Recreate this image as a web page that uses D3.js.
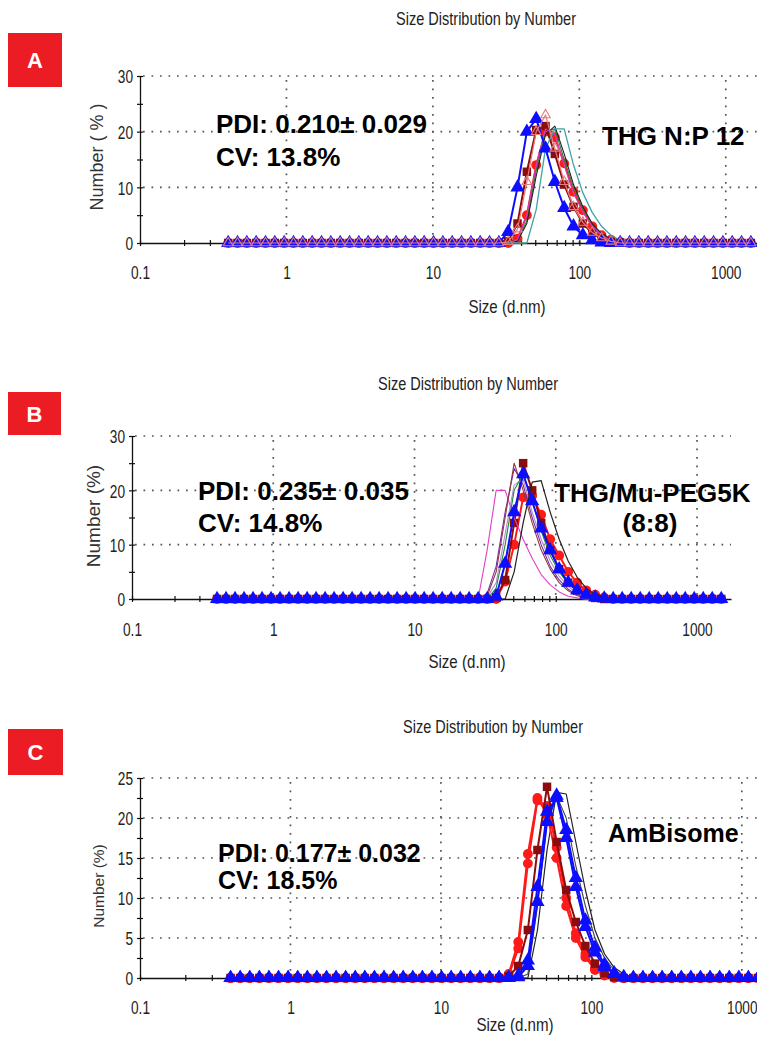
<!DOCTYPE html>
<html>
<head>
<meta charset="utf-8">
<script src="https://cdn.jsdelivr.net/npm/d3@7"></script>
<style>
  body { margin: 0; background: #fff; }
  svg { display: block; font-family: "Liberation Sans", Arial, sans-serif; }
</style>
</head>
<body>
<svg id="chart" width="757" height="1043"></svg>
<script>
// ---------- data ----------

// size bins (d.nm), Zetasizer log spacing, 0.4 .. 1484
const sizes = [0.4, 0.4632, 0.5365, 0.6213, 0.7195, 0.8332, 0.9649, 1.117, 1.294, 1.499,
  1.736, 2.010, 2.328, 2.696, 3.122, 3.615, 4.187, 4.849, 5.615, 6.503,
  7.531, 8.721, 10.10, 11.70, 13.54, 15.69, 18.17, 21.04, 24.36, 28.21,
  32.67, 37.84, 43.82, 50.75, 58.77, 68.06, 78.82, 91.28, 105.7, 122.4,
  141.8, 164.2, 190.1, 220.2, 255.0, 295.3, 342.0, 396.1, 458.7, 531.2,
  615.1, 712.4, 825.0, 955.4, 1106, 1281, 1484];

const xTickLabels = [0.1, 1, 10, 100, 1000];

// Panel A: THG N:P 12
const aBlue = [0,0,0,0,0,0,0,0,0,0, 0,0,0,0,0,0,0,0,0,0, 0,0,0,0,0,0,0,0,0,
  0,2,10,20,22.3,17,11,6.3,3,1.4,0.5,0.1, 0,0,0,0,0,0,0,0, 0,0,0,0,0,0,0,0];
const aDarkRed = [0,0,0,0,0,0,0,0,0,0, 0,0,0,0,0,0,0,0,0,0, 0,0,0,0,0,0,0,0,0,
  0,0.3,3.5,12.8,20.3,21,16,10.5,6.5,3.5,1.8,0.8,0.3,0.1, 0,0,0,0,0,0,0, 0,0,0,0,0,0,0];
const aRed = [0,0,0,0,0,0,0,0,0,0, 0,0,0,0,0,0,0,0,0,0, 0,0,0,0,0,0,0,0,0,
  0,0,0.8,5,14,20,19,14.3,9.2,5.9,3,1.4,0.6,0.2, 0,0,0,0,0,0,0, 0,0,0,0,0,0,0];
const aSalmon = [0,0,0,0,0,0,0,0,0,0, 0,0,0,0,0,0,0,0,0,0, 0,0,0,0,0,0,0,0,0,
  0,0.2,2.5,11,20,23,17,11,6.5,3.7,1.9,0.9,0.3,0, 0,0,0,0,0,0,0, 0,0,0,0,0,0,0];
const aGreen = [0,0,0,0,0,0,0,0,0,0, 0,0,0,0,0,0,0,0,0,0, 0,0,0,0,0,0,0,0,0,
  0,0,0.5,4,13,20,20.5,15,10,6.2,3.4,1.6,0.6,0.2, 0,0,0,0,0,0,0, 0,0,0,0,0,0,0];
const aBlack = [0,0,0,0,0,0,0,0,0,0, 0,0,0,0,0,0,0,0,0,0, 0,0,0,0,0,0,0,0,0,
  0,0,0.3,3.5,12,19.5,21,16,10.5,6.5,3.5,1.7,0.7,0.2, 0,0,0,0,0,0,0, 0,0,0,0,0,0,0];
const aMagenta = [0,0,0,0,0,0,0,0,0,0, 0,0,0,0,0,0,0,0,0,0, 0,0,0,0,0,0,0,0,0,
  0,0,0.6,5,14,20.5,19.5,14,9,5.5,3,1.4,0.5,0.2, 0,0,0,0,0,0,0, 0,0,0,0,0,0,0];
const aTeal = [0,0,0,0,0,0,0,0,0,0, 0,0,0,0,0,0,0,0,0,0, 0,0,0,0,0,0,0,0,0,
  0,0,0,0,6,17,20.5,20.5,14,9,5.5,3,1.4,0.5,0.1, 0,0,0,0,0,0,0, 0,0,0,0,0,0];

// Panel B: THG/Mu-PEG5K (8:8)
const bBlue = [0,0,0,0,0,0,0,0,0,0, 0,0,0,0,0,0,0,0,0,0, 0,0,0,0,0,0,0,0,0,
  0,0,0.5,6.5,16,23,18,13,9,5.5,3,1.6,0.8,0.3,0.1, 0,0,0,0,0,0,0, 0,0,0,0,0,0];
const bDarkRed = [0,0,0,0,0,0,0,0,0,0, 0,0,0,0,0,0,0,0,0,0, 0,0,0,0,0,0,0,0,0,
  0,0,0.3,3.5,14,25,20,14,9,5.5,3,1.5,0.6,0.2, 0,0,0,0,0,0,0, 0,0,0,0,0,0,0];
const bRed = [0,0,0,0,0,0,0,0,0,0, 0,0,0,0,0,0,0,0,0,0, 0,0,0,0,0,0,0,0,0,
  0,0,0,3.2,10,18.7,19,15.5,11,8,5,3,1.6,0.8,0.3, 0,0,0,0,0,0,0, 0,0,0,0,0,0];
const bBlack = [0,0,0,0,0,0,0,0,0,0, 0,0,0,0,0,0,0,0,0,0, 0,0,0,0,0,0,0,0,0,
  0,0,0,0,5,14,21.5,21.8,16,11,7,4,2,0.8,0.3, 0,0,0,0,0,0,0, 0,0,0,0,0,0];
const bMagenta = [0,0,0,0,0,0,0,0,0,0, 0,0,0,0,0,0,0,0,0,0, 0,0,0,0,0,0,0,0,0,
  0,9,20,20,15,11,7.5,4.5,2.6,1.3,0.5,0.2, 0,0,0,0,0,0,0,0, 0,0,0,0,0,0,0,0];
const bPurple = [0,0,0,0,0,0,0,0,0,0, 0,0,0,0,0,0,0,0,0,0, 0,0,0,0,0,0,0,0,0,
  0,1,6,16,24,21,15,10,6,3.5,1.8,0.8,0.3, 0,0,0,0,0,0,0,0, 0,0,0,0,0,0,0];
const bBrown = [0,0,0,0,0,0,0,0,0,0, 0,0,0,0,0,0,0,0,0,0, 0,0,0,0,0,0,0,0,0,
  0,0.5,5,15,25,20,14,9,5.5,3,1.5,0.6,0.2, 0,0,0,0,0,0,0,0, 0,0,0,0,0,0,0];
const bGreen = [0,0,0,0,0,0,0,0,0,0, 0,0,0,0,0,0,0,0,0,0, 0,0,0,0,0,0,0,0,0,
  0,0,2,10,20,23,18,12.5,8,5,2.8,1.4,0.6,0.2, 0,0,0,0,0,0,0, 0,0,0,0,0,0,0];
const bLavender = [0,0,0,0,0,0,0,0,0,0, 0,0,0,0,0,0,0,0,0,0, 0,0,0,0,0,0,0,0,0,
  0,0.3,3,12,21,22,16,11,7,4.2,2.3,1.1,0.4, 0,0,0,0,0,0,0,0, 0,0,0,0,0,0,0];

// Panel C: AmBisome
const cRed = [0,0,0,0,0,0,0,0,0,0, 0,0,0,0,0,0,0,0,0,0, 0,0,0,0,0,0,0,0,0,
  0.3,3.7,14.3,22.2,21.5,16.3,10,5.6,3,1.2,0.4,0.1, 0,0,0,0,0,0,0,0, 0,0,0,0,0,0,0,0];
const cRed2 = [0,0,0,0,0,0,0,0,0,0, 0,0,0,0,0,0,0,0,0,0, 0,0,0,0,0,0,0,0,0,
  0.5,4.5,15.5,22.5,20.5,15,9,5,2.6,1,0.3,0, 0,0,0,0,0,0,0,0, 0,0,0,0,0,0,0,0];
const cDarkRed = [0,0,0,0,0,0,0,0,0,0, 0,0,0,0,0,0,0,0,0,0, 0,0,0,0,0,0,0,0,0,
  0.2,1.5,6,16,23.9,17,11,7,4,1.8,0.6,0.1, 0,0,0,0,0,0,0,0, 0,0,0,0,0,0,0,0];
const cBlue = [0,0,0,0,0,0,0,0,0,0, 0,0,0,0,0,0,0,0,0,0, 0,0,0,0,0,0,0,0,0,
  0,0.3,2.2,11.4,20.8,22.5,17.5,11.4,6.4,3.2,1.4,0.5,0.1, 0,0,0,0,0,0,0,0, 0,0,0,0,0,0,0];
const cBlue2 = [0,0,0,0,0,0,0,0,0,0, 0,0,0,0,0,0,0,0,0,0, 0,0,0,0,0,0,0,0,0,
  0,0.1,1.5,9.5,19.5,22.8,18.5,12.5,7.2,3.8,1.7,0.6,0.1, 0,0,0,0,0,0,0,0, 0,0,0,0,0,0,0];
const cBlack = [0,0,0,0,0,0,0,0,0,0, 0,0,0,0,0,0,0,0,0,0, 0,0,0,0,0,0,0,0,0,
  0,0,0,6,16,23.2,23,17,11,6,3,1.3,0.5,0.1, 0,0,0,0,0,0,0, 0,0,0,0,0,0,0];
const cBlack2 = [0,0,0,0,0,0,0,0,0,0, 0,0,0,0,0,0,0,0,0,0, 0,0,0,0,0,0,0,0,0,
  0,0,0.5,9,19.5,22.8,20,14,9,5,2.5,1,0.3, 0,0,0,0,0,0,0,0, 0,0,0,0,0,0,0];

// ---------- colours / series styles ----------
const BLUE = "#0d0dff", DARKRED = "#8a0c0c", RED = "#ff1a1a";

const panels = [
  {
    badge: [8, 33, 54, 54], letter: "A",
    x0: 140, x1: 761, y0: 243, yTop: 76, yMax: 30,
    yMajor: [0, 10, 20, 30], yTicks: [0, 5, 10, 15, 20, 25, 30],
    title: [486, 25], xLabel: [507, 313], xTickOff: 36,
    yLabel: { x: 97, y: 157, text: "Number ( % )", size: 18 },
    font: 26,
    pdi: ["PDI: 0.210± 0.029", 216, 133], cv: ["CV: 13.8%", 216, 166],
    right: [["THG N:P 12", 602, 145, "start"]],
    series: [
      { v: aRed, c: RED, w: 2, m: "circle" },
      { v: aDarkRed, c: DARKRED, w: 2, m: "square" },
      { v: aGreen, c: "#1f8a3a", w: 1.1 },
      { v: aBlack, c: "#222", w: 1.1 },
      { v: aMagenta, c: "#d23ad2", w: 1.1 },
      { v: aTeal, c: "#3fa3a3", w: 1.3 },
      { v: aBlue, c: BLUE, w: 2, m: "triangle" },
      { v: aSalmon, c: "#e77a7a", w: 1.2, m: "open" }
    ]
  },
  {
    badge: [8, 392, 53, 43], letter: "B",
    x0: 132, x1: 731, y0: 599, yTop: 436, yMax: 30,
    yMajor: [0, 10, 20, 30], yTicks: [0, 5, 10, 15, 20, 25, 30],
    title: [468, 390], xLabel: [467, 668], xTickOff: 37,
    yLabel: { x: 93, y: 516, text: "Number (%)", size: 19 },
    font: 26,
    pdi: ["PDI: 0.235± 0.035", 198, 500], cv: ["CV: 14.8%", 198, 532],
    right: [["THG/Mu-PEG5K", 554, 502, "start"], ["(8:8)", 650, 532, "middle"]],
    series: [
      { v: bRed, c: RED, w: 2, m: "circle" },
      { v: bDarkRed, c: DARKRED, w: 2, m: "square" },
      { v: bMagenta, c: "#e23fc8", w: 1.1 },
      { v: bPurple, c: "#7a2aa8", w: 1.1 },
      { v: bBrown, c: "#8e3b3b", w: 1.1 },
      { v: bLavender, c: "#b48ad0", w: 1.1 },
      { v: bGreen, c: "#1f8a3a", w: 1.1 },
      { v: bBlack, c: "#222", w: 1.2 },
      { v: bBlue, c: BLUE, w: 2, m: "triangle" }
    ]
  },
  {
    badge: [8, 729, 55, 46], letter: "C",
    x0: 140, x1: 778, y0: 978, yTop: 778, yMax: 25,
    yMajor: [0, 5, 10, 15, 20, 25], yTicks: [0, 2.5, 5, 7.5, 10, 12.5, 15, 17.5, 20, 22.5, 25],
    title: [493, 733], xLabel: [515, 1031], xTickOff: 36,
    yLabel: { x: 99, y: 886, text: "Number (%)", size: 15.5 },
    font: 25,
    pdi: ["PDI: 0.177± 0.032", 218, 862], cv: ["CV: 18.5%", 218, 889],
    right: [["AmBisome", 608, 842, "start"]],
    series: [
      { v: cBlack, c: "#222", w: 1.2 },
      { v: cBlack2, c: "#444", w: 1.1 },
      { v: cRed2, c: RED, w: 2, m: "circle" },
      { v: cRed, c: RED, w: 2, m: "circle" },
      { v: cDarkRed, c: DARKRED, w: 2, m: "square" },
      { v: cBlue2, c: BLUE, w: 2, m: "triangle" },
      { v: cBlue, c: BLUE, w: 2, m: "triangle" }
    ]
  }
];

const svg = d3.select("#chart");

// text drawn horizontally squeezed, like the instrument's narrow font
function narrow(sel, x, y, sx) {
  return sel.attr("transform", `translate(${x},${y}) scale(${sx},1)`);
}

const symbols = {
  circle: d3.symbol().type(d3.symbolCircle).size(76),
  square: d3.symbol().type(d3.symbolSquare).size(72),
  triangle: d3.symbol().type(d3.symbolTriangle).size(88),
  open: d3.symbol().type(d3.symbolTriangle).size(40)
};

panels.forEach(drawPanel);

function drawPanel(p) {
  const g = svg.append("g");
  const x = d3.scaleLog().domain([0.1, 1740]).range([p.x0, p.x1]);
  const y = d3.scaleLinear().domain([0, p.yMax]).range([p.y0, p.yTop]);

  // red letter badge
  g.append("rect")
    .attr("x", p.badge[0]).attr("y", p.badge[1])
    .attr("width", p.badge[2]).attr("height", p.badge[3])
    .attr("fill", "#ec1c24");
  g.append("text")
    .attr("x", p.badge[0] + p.badge[2] / 2)
    .attr("y", p.badge[1] + p.badge[3] / 2 + 8)
    .attr("text-anchor", "middle")
    .attr("fill", "#fff").attr("font-weight", "bold").attr("font-size", 22)
    .text(p.letter);

  // title
  narrow(g.append("text"), p.title[0], p.title[1], 0.83)
    .attr("text-anchor", "middle").attr("font-size", 17.5).attr("fill", "#222")
    .text("Size Distribution by Number");

  // dotted grid
  const grid = g.append("g")
    .attr("stroke", "#555").attr("stroke-width", 1.7)
    .attr("stroke-dasharray", "1.7,6.8").attr("stroke-linecap", "butt");
  grid.selectAll("line.h").data(p.yMajor.filter(d => d > 0)).join("line")
    .attr("x1", p.x0 + 3).attr("x2", p.x1)
    .attr("y1", d => y(d)).attr("y2", d => y(d));
  grid.selectAll("line.v").data(xTickLabels.slice(1)).join("line")
    .attr("x1", d => x(d)).attr("x2", d => x(d))
    .attr("y1", y(p.yMax) + 4).attr("y2", p.y0);

  // x axis
  const xa = g.append("g")
    .attr("transform", `translate(0,${p.y0})`)
    .call(d3.axisBottom(x)
      .tickValues(x.ticks())
      .tickSizeOuter(0)
      .tickFormat(d => xTickLabels.includes(d) ? String(d) : ""));
  xa.select(".domain").attr("stroke", "#111").attr("stroke-width", 1.3);
  xa.selectAll(".tick line").attr("y1", -3).attr("y2", 3).attr("stroke", "#111").attr("stroke-width", 1.2);
  xa.selectAll(".tick text")
    .attr("y", p.xTickOff).attr("dy", 0)
    .attr("font-size", 18).attr("font-family", "Liberation Sans, Arial, sans-serif")
    .attr("fill", "#222").attr("transform", "scale(0.76,1)");

  // y axis
  const ya = g.append("g")
    .attr("transform", `translate(${p.x0},0)`)
    .call(d3.axisLeft(y)
      .tickValues(p.yTicks)
      .tickSizeOuter(0)
      .tickFormat(d => p.yMajor.includes(d) ? String(d) : ""));
  ya.select(".domain").attr("stroke", "#111").attr("stroke-width", 1.3);
  ya.selectAll(".tick line").attr("x1", -3).attr("x2", 3).attr("stroke", "#111").attr("stroke-width", 1.2);
  ya.selectAll(".tick text")
    .attr("x", -7 / 0.72).attr("dy", "0.36em")
    .attr("font-size", 19).attr("font-family", "Liberation Sans, Arial, sans-serif")
    .attr("fill", "#222").attr("transform", "scale(0.72,1)");

  // axis titles
  narrow(g.append("text"), p.xLabel[0], p.xLabel[1], 0.84)
    .attr("text-anchor", "middle").attr("font-size", 18).attr("fill", "#222")
    .text("Size (d.nm)");
  g.append("text")
    .attr("transform", `translate(${p.yLabel.x},${p.yLabel.y}) rotate(-90)`)
    .attr("text-anchor", "middle").attr("dy", "0.35em")
    .attr("font-size", p.yLabel.size).attr("fill", "#333")
    .text(p.yLabel.text);

  // annotation text (behind the data, over the grid)
  const note = g.append("g").attr("font-weight", "bold").attr("font-size", p.font).attr("fill", "#000");
  note.append("text").attr("x", p.pdi[1]).attr("y", p.pdi[2]).text(p.pdi[0]);
  note.append("text").attr("x", p.cv[1]).attr("y", p.cv[2]).text(p.cv[0]);
  p.right.forEach(r => {
    note.append("text").attr("x", r[1]).attr("y", r[2]).attr("text-anchor", r[3]).text(r[0]);
  });

  // series
  const line = d3.line()
    .x((d, i) => x(sizes[i]))
    .y(d => y(d));

  p.series.forEach(s => {
    const sg = g.append("g");
    sg.append("path")
      .attr("d", line(s.v))
      .attr("fill", "none")
      .attr("stroke", s.c)
      .attr("stroke-width", s.w)
      .attr("stroke-linejoin", "round");
    if (s.m) {
      sg.selectAll("path.mk").data(s.v).join("path")
        .attr("class", "mk")
        .attr("transform", (d, i) => `translate(${x(sizes[i])},${y(d)})`)
        .attr("d", symbols[s.m])
        .attr("fill", s.m === "open" ? "none" : s.c)
        .attr("stroke", s.m === "open" ? s.c : "none")
        .attr("stroke-width", 1.1);
    }
  });
}
</script>
</body>
</html>
